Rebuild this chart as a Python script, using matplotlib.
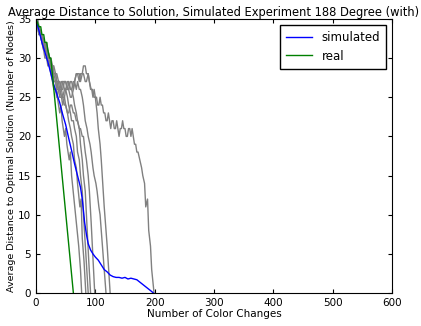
import matplotlib
matplotlib.use("Agg")
import matplotlib.pyplot as plt

# * Dados (tentativas individuais em cinza)
t1_x = [0, 3, 5, 8, 10, 13, 16, 18, 20, 23, 26, 28, 31, 34, 36, 40, 42, 44, 48, 50, 52,
        56, 58, 60, 64, 68, 72, 75, 77]
t1_y = [35, 34, 33, 33, 32, 31, 31, 30, 30, 29, 28, 27, 26, 26, 25, 23, 24, 22, 20, 21,
        19, 17, 18, 15, 12, 9, 6, 3, 0]

t2_x = [0, 3, 5, 8, 10, 13, 15, 18, 20, 23, 25, 28, 30, 33, 35, 38, 40, 43, 45, 48, 50,
        53, 55, 58, 60, 63, 65, 68, 70, 74, 76, 78, 81, 84]
t2_y = [35, 34, 34, 33, 33, 32, 31, 31, 30, 30, 29, 28, 27, 27, 26, 27, 27, 26, 25, 25,
        24, 23, 22, 21, 20, 19, 17, 16, 14, 11, 12, 7, 4, 0]

t3_x = [0, 3, 5, 8, 10, 13, 15, 18, 20, 23, 25, 28, 30, 33, 35, 38, 40, 43, 45, 48, 50,
        53, 55, 58, 60, 63, 65, 68, 70, 73, 75, 78, 80, 84, 88]
t3_y = [35, 34, 33, 33, 32, 32, 31, 32, 31, 30, 29, 29, 28, 28, 27, 26, 26, 27, 27, 26,
        26, 25, 24, 23, 22, 22, 21, 20, 18, 17, 15, 13, 10, 5, 0]

t4_x = [0, 3, 5, 8, 10, 13, 15, 18, 20, 23, 25, 28, 30, 33, 35, 38, 40, 43, 45, 48, 50,
        53, 55, 58, 60, 63, 65, 68, 70, 73, 75, 78, 80, 83, 85, 89, 92]
t4_y = [35, 34, 34, 33, 32, 31, 30, 30, 29, 29, 28, 27, 26, 26, 25, 26, 26, 25, 25, 26,
        26, 27, 27, 26, 26, 25, 24, 23, 22, 21, 19, 17, 15, 13, 10, 4, 0]

t5_x = [0, 3, 5, 8, 10, 13, 15, 18, 20, 23, 25, 28, 30, 33, 35, 38, 40, 43, 45, 48, 50,
        53, 55, 58, 60, 63, 65, 68, 70, 73, 75, 78, 80, 83, 85, 88, 90, 93, 95, 99]
t5_y = [35, 35, 34, 33, 33, 32, 32, 31, 30, 30, 29, 29, 28, 27, 27, 26, 26, 25, 25, 24,
        24, 23, 23, 24, 24, 23, 23, 22, 22, 21, 21, 20, 20, 18, 17, 15, 13, 9, 6, 0]

t6_x = [0, 3, 5, 8, 10, 13, 15, 18, 20, 23, 25, 28, 30, 33, 35, 38, 40, 43, 45, 48, 50,
        53, 55, 58, 60, 63, 65, 68, 70, 73, 75, 78, 80, 83, 86, 88, 91, 93, 96, 98,
        101, 103, 106, 108, 113, 118]
t6_y = [35, 34, 34, 33, 33, 32, 32, 31, 31, 30, 30, 29, 29, 28, 28, 27, 27, 26, 26, 27,
        27, 26, 26, 25, 25, 26, 27, 26, 27, 26, 26, 25, 24, 22, 21, 20, 19, 18, 16, 15,
        14, 13, 11, 10, 5, 0]

t7_x = [0, 3, 5, 8, 10, 13, 15, 18, 20, 23, 25, 28, 30, 33, 35, 38, 40, 43, 45, 48, 50,
        53, 55, 58, 60, 63, 65, 68, 70, 73, 75, 78, 80, 83, 85, 88, 90, 93, 95, 98,
        100, 103, 105, 108, 110, 115, 120, 125]
t7_y = [35, 34, 34, 33, 33, 32, 31, 31, 30, 30, 29, 29, 28, 28, 27, 27, 26, 26, 27, 27,
        27, 26, 26, 27, 27, 26, 27, 28, 28, 27, 28, 28, 28, 27, 27, 28, 27, 26, 26, 25,
        25, 23, 21, 19, 17, 11, 6, 0]

t8_x = [0, 3, 5, 8, 10, 13, 15, 18, 20, 23, 25, 28, 30, 33, 35, 38, 40, 43, 45, 48, 50,
        53, 55, 58, 60, 63, 65, 68, 70, 73, 75, 78, 80, 83, 85, 88, 90, 92, 94, 96, 98,
        100, 102, 104, 106, 108, 110, 112, 114, 116, 118, 120, 122, 124, 126, 128, 130,
        132, 134, 136, 138, 140, 142, 144, 146, 148, 150, 152, 154, 156, 158, 160, 162,
        164, 166, 168, 170, 172, 175, 178, 180, 183, 185, 188, 190, 193, 195, 199]
t8_y = [35, 34, 33, 33, 32, 32, 31, 31, 30, 30, 29, 28, 27, 27, 26, 26, 25, 25, 24, 25,
        26, 26, 27, 26, 26, 27, 27, 28, 28, 28, 27, 28, 29, 29, 28, 28, 27, 26, 26, 25,
        26, 25, 25, 24, 24, 25, 24, 24, 23, 23, 22, 22, 23, 22, 21, 22, 22, 21, 21, 22,
        21, 20, 21, 21, 22, 21, 21, 20, 20, 21, 21, 20, 21, 20, 19, 19, 18, 18, 17, 16,
        15, 14, 11, 12, 8, 6, 3, 0]

tentativas = [(t1_x, t1_y), (t2_x, t2_y), (t3_x, t3_y), (t4_x, t4_y),
              (t5_x, t5_y), (t6_x, t6_y), (t7_x, t7_y), (t8_x, t8_y)]

# * Media simulada (azul)
sim_x = [0, 10, 20, 30, 40, 45, 50, 55, 60, 65, 70, 75, 78, 80, 82, 85, 88, 92, 96,
         100, 105, 110, 115, 120, 125, 130, 135, 140, 145, 150, 155, 160, 165, 170,
         175, 180, 185, 190, 195, 198]
sim_y = [35, 32, 29.5, 26.6, 24.3, 22.8, 21.5, 19.8, 18.2, 16.5, 15, 13.5, 12, 10.5, 9,
         7.5, 6.3, 5.5, 5, 4.6, 4.2, 3.6, 3.0, 2.7, 2.3, 2.1, 2.0, 2.0, 1.9, 2.0, 1.8,
         1.9, 1.8, 1.7, 1.4, 1.1, 0.8, 0.5, 0.2, 0]

# * Experimento real (verde)
real_x = [0, 5, 8, 10, 13, 15, 18, 20, 23, 25, 63]
real_y = [35, 34, 34, 33, 33, 32, 32, 31, 30, 30, 0]

plt.rcParams["xtick.direction"] = "in"
plt.rcParams["ytick.direction"] = "in"
plt.rcParams["xtick.top"] = True
plt.rcParams["ytick.right"] = True

fig = plt.figure(figsize=(4.21, 3.26), dpi=100)
ax = fig.add_axes([0.0855, 0.101, 0.8455, 0.841])

for tx, ty in tentativas:
    ax.plot(tx, ty, color="gray", linewidth=1)

ax.plot(sim_x, sim_y, color="blue", linewidth=1, label="simulated")
ax.plot(real_x, real_y, color="green", linewidth=1, label="real")

ax.set_xlim(0, 600)
ax.set_ylim(0, 35)
ax.set_xticks([0, 100, 200, 300, 400, 500, 600])
ax.set_yticks([0, 5, 10, 15, 20, 25, 30, 35])
ax.tick_params(labelsize=7.5, length=3)
ax.set_xlabel("Number of Color Changes", fontsize=7.5, labelpad=1)
ax.set_ylabel("Average Distance to Optimal Solution (Number of Nodes)", fontsize=6.8,
              labelpad=1)
ax.set_title("Average Distance to Solution, Simulated Experiment 188 Degree (with)",
             fontsize=8.3, pad=1)
leg = ax.legend(loc="upper right", fontsize=8.5, fancybox=False, framealpha=1,
                handlelength=2.2, borderpad=0.5)
leg.get_frame().set_edgecolor("black")

fig.savefig("out.png", dpi=100)
